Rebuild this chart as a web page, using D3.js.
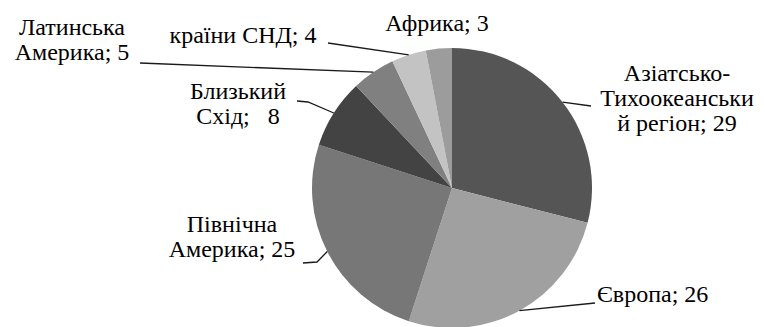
<!DOCTYPE html>
<html><head><meta charset="utf-8">
<script src="https://cdn.jsdelivr.net/npm/d3@7/dist/d3.min.js"></script>
</head><body style="margin:0">
<svg id="chart" width="765" height="327" font-family="Times New Roman"></svg>
<script>
// Regions, in drawing order clockwise from 12 o'clock
const regions = [
  "Азіатсько-Тихоокеанський регіон",
  "Європа",
  "Північна Америка",
  "Близький Схід",
  "Латинська Америка",
  "країни СНД",
  "Африка"
];
const shares = [29, 26, 25, 8, 5, 4, 3];

// Label text broken into lines; the value is appended to the last line
const labelLines = [
  ["Азіатсько-", "Тихоокеанськи", "й регіон"],
  ["Європа"],
  ["Північна", "Америка"],
  ["Близький", "Схід"],
  ["Латинська", "Америка"],
  ["країни СНД"],
  ["Африка"]
];
const valueSeparators = ["; ", "; ", "; ", ";\u00a0\u00a0\u00a0", "; ", "; ", "; "];

const sliceColors = ["#555555", "#a0a0a0", "#777777", "#434343", "#808080", "#c3c3c3", "#9c9c9c"];

// Label placement: baseline of the first line, text anchor, and leader line elbow points
const labelLayout = [
  { x: 677, y: 81,  anchor: "middle", leader: [[591, 106]] },
  { x: 597, y: 302, anchor: "start",  leader: [[595, 303]] },
  { x: 232, y: 232, anchor: "middle", leader: [[317, 262], [303, 263]] },
  { x: 238, y: 99,  anchor: "middle", leader: [[308, 102], [297, 101]] },
  { x: 72,  y: 35,  anchor: "middle", leader: [[140, 63]] },
  { x: 243, y: 43,  anchor: "middle", leader: [[328, 43]] },
  { x: 437, y: 31,  anchor: "middle", leader: null }
];

const cx = 452, cy = 188, radius = 140;
const fontSize = 24, lineHeight = 25;

const svg = d3.select("#chart");
const g = svg.append("g").attr("transform", `translate(${cx},${cy})`);

const pie = d3.pie().sort(null).value(d => d.value);
const arcs = pie(shares.map((v, i) => ({ name: regions[i], value: v, i })));

const arc = d3.arc().innerRadius(0).outerRadius(radius);

g.selectAll("path.slice")
  .data(arcs)
  .join("path")
  .attr("class", "slice")
  .attr("d", arc)
  .attr("fill", (d, i) => sliceColors[i]);

// Leader lines from the middle of each slice's rim to its label
const line = d3.line();
arcs.forEach((d, i) => {
  const lay = labelLayout[i];
  if (!lay.leader) return;
  const mid = (d.startAngle + d.endAngle) / 2;
  const start = [cx + radius * Math.sin(mid), cy - radius * Math.cos(mid)];
  svg.append("path")
    .attr("d", line([start, ...lay.leader]))
    .attr("fill", "none")
    .attr("stroke", "#1a1a1a")
    .attr("stroke-width", 1.3);
});

// Labels: one text element per line
arcs.forEach((d, i) => {
  const lay = labelLayout[i];
  const lines = labelLines[i].slice();
  lines[lines.length - 1] += valueSeparators[i] + d.data.value;
  lines.forEach((s, k) => {
    svg.append("text")
      .attr("x", lay.x)
      .attr("y", lay.y + k * lineHeight)
      .attr("text-anchor", lay.anchor)
      .attr("font-family", "Liberation Serif")
      .attr("font-size", fontSize)
      .text(s);
  });
});
</script>
</body></html>
